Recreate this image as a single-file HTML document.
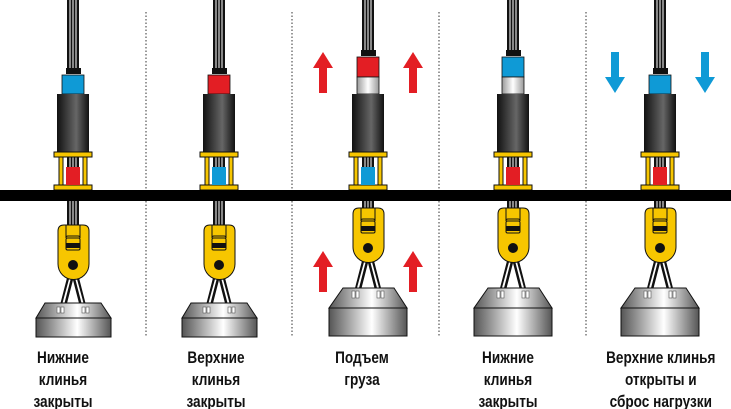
<!DOCTYPE html>
<html><head><meta charset="utf-8"><style>
body{margin:0;background:#fff}
svg{display:block}
text{font-family:"Liberation Sans",sans-serif;font-weight:bold;font-size:17px;fill:#111}
</style></head><body>
<svg width="731" height="409" viewBox="0 0 731 409" xmlns="http://www.w3.org/2000/svg">
<defs>
<linearGradient id="cyl" x1="0" x2="1"><stop offset="0" stop-color="#111"/><stop offset="0.6" stop-color="#666"/><stop offset="1" stop-color="#111"/></linearGradient>
<linearGradient id="met" x1="0" x2="1"><stop offset="0" stop-color="#555"/><stop offset="0.55" stop-color="#fff"/><stop offset="1" stop-color="#555"/></linearGradient>
<linearGradient id="sil" x1="0" x2="1"><stop offset="0" stop-color="#999"/><stop offset="0.5" stop-color="#fff"/><stop offset="1" stop-color="#999"/></linearGradient>
<g id="frame">
<rect x="-6" y="150" width="12" height="80" fill="#111"/>
<path d="M-3 150V230M0 150V230M3 150V230" stroke="#fff" stroke-width="1"/>
<rect x="-16" y="94" width="32" height="58" fill="url(#cyl)"/>
<rect x="-19" y="152" width="38" height="5" fill="#f7c600" stroke="#111" stroke-width="1"/>
<rect x="-14" y="157" width="4" height="28" fill="#f7c600" stroke="#111" stroke-width="1"/>
<rect x="10" y="157" width="4" height="28" fill="#f7c600" stroke="#111" stroke-width="1"/>
<rect x="-19" y="185" width="38" height="5" fill="#f7c600" stroke="#111" stroke-width="1"/>
</g>
<g id="hook">
<path d="M-13 310L-4 275M-9 310L0 275M13 310L4 275M9 310L0 275" stroke="#111" stroke-width="2.5"/>
<path d="M-12 310L-3 277M12 310L3 277" stroke="#fff" stroke-width="0.8"/>
<path d="M-15 231Q-15 225 -9 225H10Q16 225 16 231V264A15.5 15.5 0 0 1 -15 264Z" fill="#f7c600" stroke="#111" stroke-width="1"/>
<path d="M-7 225V238Q-7 236 -5 236H5Q7 236 7 238V225" fill="none" stroke="#111" stroke-width="1"/>
<rect x="-7" y="238" width="14" height="12" rx="1.5" fill="#f7c600" stroke="#111" stroke-width="1"/>
<rect x="-7" y="243" width="14" height="5" fill="#111"/>
<circle cx="0" cy="265" r="5" fill="#111"/>
</g>
<g id="wsmall">
<path d="M-28 303H28L38 318H-37Z" fill="url(#met)" stroke="#111" stroke-width="1"/>
<rect x="-37" y="318" width="75" height="19" fill="url(#met)" stroke="#111" stroke-width="1"/>
<rect x="-16" y="307" width="3" height="6" fill="#fff" stroke="#555" stroke-width="0.6"/>
<rect x="-12" y="307" width="3" height="6" fill="#fff" stroke="#555" stroke-width="0.6"/>
<rect x="9" y="307" width="3" height="6" fill="#fff" stroke="#555" stroke-width="0.6"/>
<rect x="13" y="307" width="3" height="6" fill="#fff" stroke="#555" stroke-width="0.6"/>
</g>
<g id="wbig">
<path d="M-25 288H26L39 308H-39Z" fill="url(#met)" stroke="#111" stroke-width="1"/>
<rect x="-39" y="308" width="78" height="28" fill="url(#met)" stroke="#111" stroke-width="1"/>
<rect x="-16" y="291" width="3" height="7" fill="#fff" stroke="#555" stroke-width="0.6"/>
<rect x="-12" y="291" width="3" height="7" fill="#fff" stroke="#555" stroke-width="0.6"/>
<rect x="9" y="291" width="3" height="7" fill="#fff" stroke="#555" stroke-width="0.6"/>
<rect x="13" y="291" width="3" height="7" fill="#fff" stroke="#555" stroke-width="0.6"/>
</g>
<g id="arrUp"><path d="M-4 93V68H-10L0 52L10 68H4V93Z" fill="#e31e24"/></g>
<g id="arrDn"><path d="M-4 52V77H-10L0 93L10 77H4V52Z" fill="#0f9ad6"/></g>
</defs>

<g stroke="#333" stroke-width="1" stroke-dasharray="1.5,2">
<line x1="146" y1="12" x2="146" y2="337"/><line x1="292" y1="12" x2="292" y2="337"/>
<line x1="439" y1="12" x2="439" y2="337"/><line x1="586" y1="12" x2="586" y2="337"/>
</g>

<g transform="translate(73,0)">
<rect x="-6" y="0" width="12" height="70" fill="#111"/><path d="M-3 0V70M0 0V70M3 0V70" stroke="#fff" stroke-width="1"/>
<rect x="-7" y="68" width="15" height="6" fill="#111"/>
<rect x="-11" y="75" width="22" height="19" fill="#0f9ad6" stroke="#111" stroke-width="0.8"/>
<use href="#frame"/>
<rect x="-7" y="167" width="14" height="18" fill="#e31e24"/>
<use href="#hook"/><use href="#wsmall"/>
</g>
<g transform="translate(219,0)">
<rect x="-6" y="0" width="12" height="70" fill="#111"/><path d="M-3 0V70M0 0V70M3 0V70" stroke="#fff" stroke-width="1"/>
<rect x="-7" y="68" width="15" height="6" fill="#111"/>
<rect x="-11" y="75" width="22" height="19" fill="#e31e24" stroke="#111" stroke-width="0.8"/>
<use href="#frame"/>
<rect x="-7" y="167" width="14" height="18" fill="#0f9ad6"/>
<use href="#hook"/><use href="#wsmall"/>
</g>
<g transform="translate(368,0)">
<rect x="-6" y="0" width="12" height="52" fill="#111"/><path d="M-3 0V52M0 0V52M3 0V52" stroke="#fff" stroke-width="1"/>
<rect x="-7" y="50" width="15" height="6" fill="#111"/>
<rect x="-11" y="57" width="22" height="20" fill="#e31e24" stroke="#111" stroke-width="0.8"/>
<rect x="-11" y="77" width="22" height="17" fill="url(#sil)" stroke="#111" stroke-width="0.8"/>
<use href="#frame"/>
<rect x="-7" y="167" width="14" height="18" fill="#0f9ad6"/>
<g transform="translate(0,-17)"><use href="#hook"/></g><use href="#wbig"/>
<use href="#arrUp" x="-45"/><use href="#arrUp" x="45"/>
<use href="#arrUp" x="-45" y="199"/><use href="#arrUp" x="45" y="199"/>
</g>
<g transform="translate(513,0)">
<rect x="-6" y="0" width="12" height="52" fill="#111"/><path d="M-3 0V52M0 0V52M3 0V52" stroke="#fff" stroke-width="1"/>
<rect x="-7" y="50" width="15" height="6" fill="#111"/>
<rect x="-11" y="57" width="22" height="20" fill="#0f9ad6" stroke="#111" stroke-width="0.8"/>
<rect x="-11" y="77" width="22" height="17" fill="url(#sil)" stroke="#111" stroke-width="0.8"/>
<use href="#frame"/>
<rect x="-7" y="167" width="14" height="18" fill="#e31e24"/>
<g transform="translate(0,-17)"><use href="#hook"/></g><use href="#wbig"/>
</g>
<g transform="translate(660,0)">
<rect x="-6" y="0" width="12" height="70" fill="#111"/><path d="M-3 0V70M0 0V70M3 0V70" stroke="#fff" stroke-width="1"/>
<rect x="-7" y="68" width="15" height="6" fill="#111"/>
<rect x="-11" y="75" width="22" height="19" fill="#0f9ad6" stroke="#111" stroke-width="0.8"/>
<use href="#frame"/>
<rect x="-7" y="167" width="14" height="18" fill="#e31e24"/>
<g transform="translate(0,-17)"><use href="#hook"/></g><use href="#wbig"/>
<use href="#arrDn" x="-45"/><use href="#arrDn" x="45"/>
</g>

<rect x="0" y="190" width="731" height="11" fill="#000"/>

<g text-anchor="middle" transform="scale(0.8,1)">
<text x="78.75" y="363">Нижние</text><text x="78.75" y="385">клинья</text><text x="78.75" y="407">закрыты</text>
<text x="270" y="363">Верхние</text><text x="270" y="385">клинья</text><text x="270" y="407">закрыты</text>
<text x="452.5" y="363">Подъем</text><text x="452.5" y="385">груза</text>
<text x="635" y="363">Нижние</text><text x="635" y="385">клинья</text><text x="635" y="407">закрыты</text>
<text x="826" y="363">Верхние клинья</text><text x="826" y="385">открыты и</text><text x="826" y="407">сброс нагрузки</text>
</g>
</svg>
</body></html>
